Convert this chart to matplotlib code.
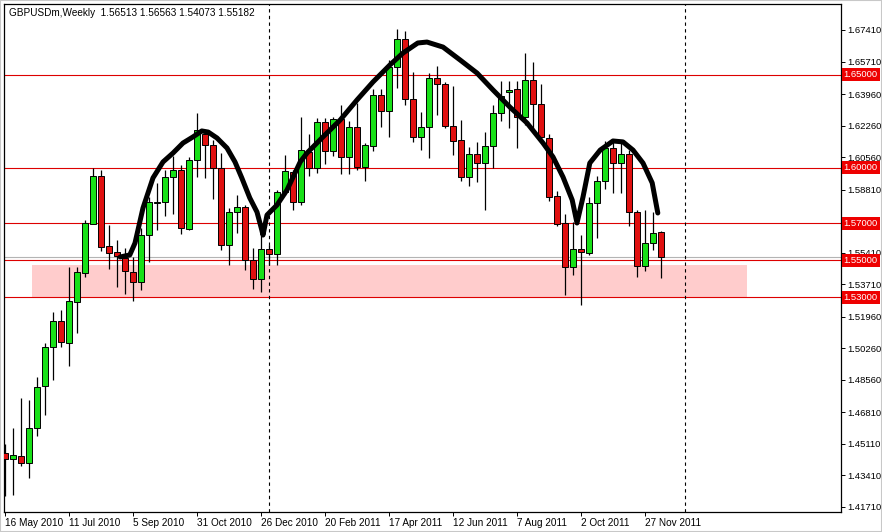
import matplotlib.pyplot as plt
from matplotlib.patches import Rectangle
import matplotlib.transforms as mtransforms

plt.rcParams['font.family'] = ['Liberation Sans', 'DejaVu Sans']

# GBPUSDm weekly candles, one per week starting 16 May 2010
opens = [1.4462, 1.4430, 1.4446, 1.4408, 1.4597, 1.4823, 1.5033, 1.5173, 1.5055, 1.5276,
         1.5432, 1.5696, 1.5954, 1.5577, 1.5545, 1.5513, 1.5437, 1.5383, 1.5636, 1.5809,
         1.5814, 1.5949, 1.5987, 1.5669, 1.6041, 1.6181, 1.6121, 1.5997, 1.5583, 1.5760,
         1.5787, 1.5502, 1.5399, 1.5561, 1.5534, 1.5868, 1.5976, 1.5814, 1.6084, 1.5997,
         1.6245, 1.6089, 1.6261, 1.6057, 1.6218, 1.6003, 1.6116, 1.6391, 1.6305, 1.6542,
         1.6693, 1.6369, 1.6165, 1.6218, 1.6482, 1.6450, 1.6224, 1.6148, 1.5949, 1.6073,
         1.6024, 1.6116, 1.6294, 1.6407, 1.6423, 1.6272, 1.6472, 1.6342, 1.6159, 1.5847,
         1.5701, 1.5464, 1.5561, 1.5539, 1.5809, 1.5927, 1.6105, 1.6024, 1.6073, 1.5760,
         1.5469, 1.5593, 1.56513]
highs = [1.4510, 1.4597, 1.4758, 1.4747, 1.4871, 1.5055, 1.5222, 1.5232, 1.5464, 1.5464,
         1.5717, 1.5997, 1.5987, 1.5690, 1.5610, 1.5566, 1.5518, 1.5674, 1.5841, 1.5917,
         1.5987, 1.6062, 1.6014, 1.6057, 1.6294, 1.6202, 1.6148, 1.6078, 1.5782, 1.5852,
         1.5798, 1.5566, 1.5636, 1.5583, 1.5879, 1.6068, 1.5987, 1.6272, 1.6181, 1.6267,
         1.6267, 1.6272, 1.6337, 1.6251, 1.6348, 1.6132, 1.6423, 1.6423, 1.6579, 1.6746,
         1.6736, 1.6515, 1.6299, 1.6509, 1.6547, 1.6461, 1.6439, 1.6256, 1.6111, 1.6138,
         1.6191, 1.6337, 1.6466, 1.6466, 1.6466, 1.6617, 1.6569, 1.6450, 1.6181, 1.5873,
         1.5750, 1.5706, 1.5636, 1.5841, 1.5954, 1.6143, 1.6148, 1.6132, 1.6094, 1.5771,
         1.5771, 1.5760, 1.56563]
lows = [1.4230, 1.4236, 1.4392, 1.4327, 1.4554, 1.4667, 1.4855, 1.5033, 1.4931, 1.5108,
        1.5410, 1.5696, 1.5550, 1.5453, 1.5356, 1.5319, 1.5281, 1.5340, 1.5491, 1.5663,
        1.5739, 1.5750, 1.5642, 1.5663, 1.5949, 1.5944, 1.5830, 1.5556, 1.5475, 1.5647,
        1.5448, 1.5346, 1.5329, 1.5475, 1.5475, 1.5852, 1.5771, 1.5798, 1.5954, 1.5971,
        1.6019, 1.6062, 1.5965, 1.5965, 1.5987, 1.5927, 1.6089, 1.6218, 1.6165, 1.6428,
        1.6337, 1.6138, 1.6094, 1.6051, 1.6283, 1.6213, 1.6068, 1.5927, 1.5900, 1.5922,
        1.5771, 1.5997, 1.6251, 1.6213, 1.6105, 1.6229, 1.6202, 1.6148, 1.5820, 1.5685,
        1.5313, 1.5421, 1.5259, 1.5529, 1.5620, 1.5884, 1.5863, 1.5863, 1.5685, 1.5410,
        1.5442, 1.5556, 1.54073]
closes = [1.4430, 1.4451, 1.4408, 1.4597, 1.4817, 1.5033, 1.5173, 1.5060, 1.5281, 1.5437,
          1.5701, 1.5954, 1.5572, 1.5539, 1.5523, 1.5442, 1.5383, 1.5636, 1.5814, 1.5814,
          1.5949, 1.5987, 1.5674, 1.6041, 1.6202, 1.6121, 1.5997, 1.5583, 1.5760, 1.5787,
          1.5502, 1.5399, 1.5561, 1.5534, 1.5868, 1.5981, 1.5814, 1.6094, 1.5997, 1.6245,
          1.6089, 1.6261, 1.6057, 1.6218, 1.6003, 1.6121, 1.6391, 1.6305, 1.6542, 1.6693,
          1.6369, 1.6165, 1.6218, 1.6482, 1.6450, 1.6224, 1.6143, 1.5949, 1.6073, 1.6024,
          1.6116, 1.6294, 1.6385, 1.6418, 1.6272, 1.6472, 1.6342, 1.6165, 1.5841, 1.5696,
          1.5464, 1.5561, 1.5545, 1.5809, 1.5927, 1.6105, 1.6024, 1.6073, 1.5760, 1.5469,
          1.5593, 1.5647, 1.55182]

date_labels = ["16 May 2010", "11 Jul 2010", "5 Sep 2010", "31 Oct 2010", "26 Dec 2010",
               "20 Feb 2011", "17 Apr 2011", "12 Jun 2011", "7 Aug 2011", "2 Oct 2011",
               "27 Nov 2011"]
date_weeks = [0, 8, 16, 24, 32, 40, 48, 56, 64, 72, 80]

price_ticks = [1.67410, 1.65710, 1.63960, 1.62260, 1.60560, 1.58810, 1.57110, 1.55410,
               1.53710, 1.51960, 1.50260, 1.48560, 1.46810, 1.45110, 1.43410, 1.41710]
hidden_ticks = [1.57110]   # covered by the 1.57000 label in the terminal

levels = [1.65, 1.60, 1.57, 1.55, 1.53]
bid = 1.55182
year_breaks = [33, 85]

# support zone (weeks, prices)
zone_weeks = [3.4, 92.75]
zone_prices = [1.5302, 1.5475]

# hand drawn head & shoulders line (week, price)
curve_week = [14.4, 15.6, 16.25, 17.25, 18.5, 19.75, 21.0, 22.25, 23.5, 24.6, 25.4, 26.5,
              27.75, 28.75, 29.6, 30.6, 31.5, 32.1, 32.25, 32.75, 34.0, 35.25, 36.9, 37.75,
              39.75, 41.9, 44.0, 46.0, 48.1, 49.75, 51.6, 52.75, 54.75, 56.9, 59.0, 61.0,
              63.1, 65.25, 67.25, 68.5, 69.75, 70.9, 71.5, 72.25, 73.1, 74.4, 76.0, 77.25,
              78.5, 79.75, 80.9, 81.6]
curve_price = [1.5518, 1.5529, 1.5593, 1.5782, 1.5944, 1.6030, 1.6078, 1.6132, 1.6165,
               1.6197, 1.6191, 1.6159, 1.6105, 1.6030, 1.5944, 1.5836, 1.5760, 1.5663,
               1.5636, 1.5744, 1.5798, 1.5879, 1.6030, 1.6078, 1.6165, 1.6256, 1.6364,
               1.6461, 1.6552, 1.6617, 1.6671, 1.6676, 1.6649, 1.6579, 1.6509, 1.6418,
               1.6326, 1.6240, 1.6132, 1.6057, 1.5949, 1.5825, 1.5701, 1.5841, 1.6024,
               1.6094, 1.6143, 1.6138, 1.6094, 1.6024, 1.5917, 1.5755]

fig = plt.figure(figsize=(8.82, 5.32), dpi=100)
ax = fig.add_axes([4 / 882, 1 - 512 / 532, 837 / 882, 508 / 532])
ax.set_xlim(-0.125, 104.5)
ax.set_ylim(1.4144, 1.6881)

ax.add_patch(Rectangle((zone_weeks[0], zone_prices[0]), zone_weeks[1] - zone_weeks[0],
                       zone_prices[1] - zone_prices[0], facecolor='#ffcccc',
                       edgecolor='none', zorder=0.5))

for lv in levels:
    ax.axhline(lv, color='#dd0000', lw=0.8, zorder=1)
ax.axhline(bid, color='#b4b4b4', lw=0.8, zorder=1)
for w in year_breaks:
    ax.axvline(w, color='black', lw=0.8, ls=(0, (3, 3)), zorder=1)

for i in range(len(opens)):
    o, h, l, c = opens[i], highs[i], lows[i], closes[i]
    ax.vlines(i, l, h, color='black', lw=0.9, zorder=2)
    col = '#18e018' if c >= o else '#e01010'
    ax.bar(i, max(abs(c - o), 0.0002), bottom=min(o, c), width=0.66, color=col,
           edgecolor='black', lw=0.7, zorder=3)

ax.plot(curve_week, curve_price, color='black', lw=3.6, solid_capstyle='round',
        solid_joinstyle='round', zorder=5)

ax.yaxis.tick_right()
ax.set_yticks(price_ticks)
ax.set_yticklabels(['' if p in hidden_ticks else '%.5f' % p for p in price_ticks])
ax.tick_params(axis='y', length=3, pad=1.5, labelsize=6.8, width=0.7)
ax.set_xticks(date_weeks)
ax.set_xticklabels(date_labels)
shift = mtransforms.ScaledTranslation(2 / 100, 0, fig.dpi_scale_trans)
for lbl in ax.get_xticklabels():
    lbl.set_ha('left')
    lbl.set_transform(lbl.get_transform() + shift)
ax.tick_params(axis='x', length=3, pad=1, labelsize=7.2, width=0.7)
for s in ax.spines.values():
    s.set_linewidth(0.9)

trans = mtransforms.blended_transform_factory(ax.transAxes, ax.transData)
for lv in levels:
    ax.text(1.003, lv, '%.5f' % lv, transform=trans, va='center', ha='left', fontsize=6.8,
            color='white', zorder=10,
            bbox=dict(boxstyle='square,pad=0.2', facecolor='#ee0000', edgecolor='none'))

ax.text(0.006, 0.993, 'GBPUSDm,Weekly  1.56513 1.56563 1.54073 1.55182',
        transform=ax.transAxes, va='top', ha='left', fontsize=7.2)

fig.patches.append(Rectangle((0, 0), 1, 1, transform=fig.transFigure, fill=False,
                             edgecolor='#c8c8c8', lw=1.5))

fig.savefig('out.png', dpi=100)
